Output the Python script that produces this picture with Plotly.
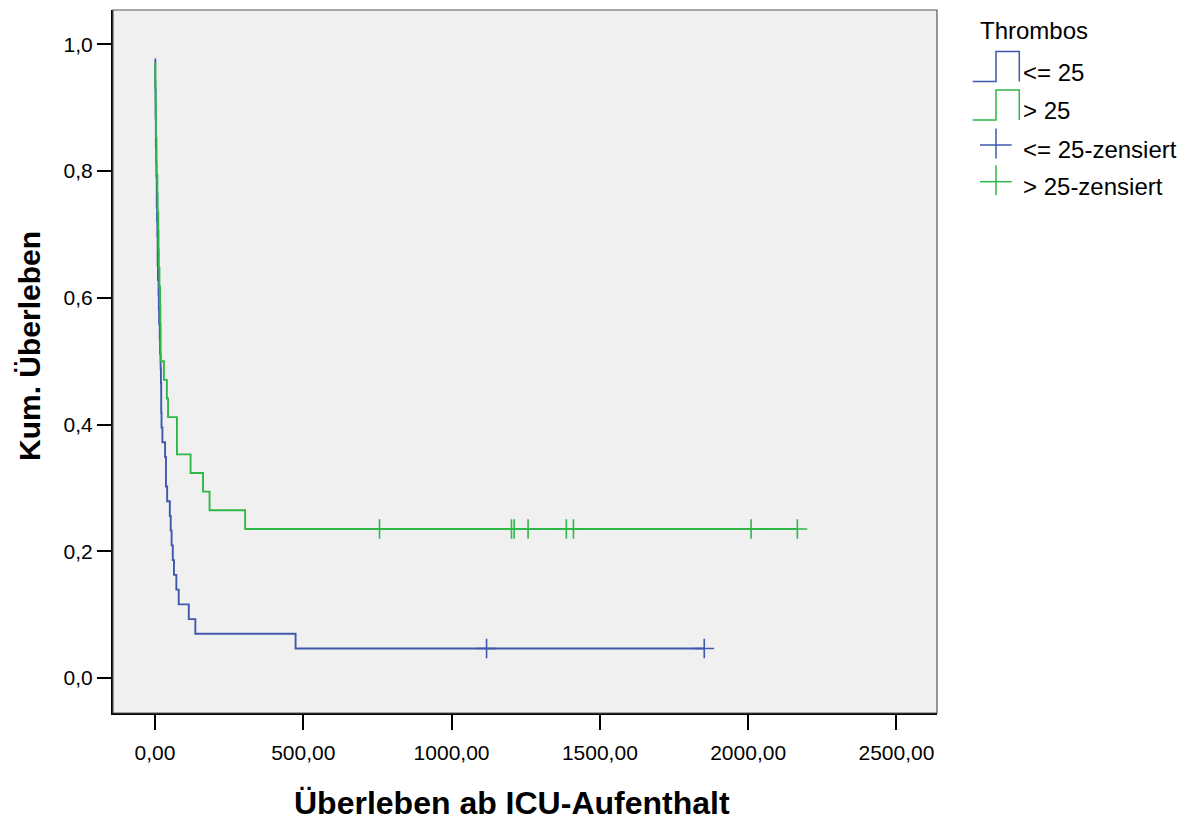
import numpy as np
import plotly.graph_objects as go

# Survival times (days after ICU stay), split by platelet group
group_labels = ["<= 25", "> 25"]
group_colors = ["#3E58AC", "#2EB848"]

# group "<= 25" (n = 43)
events_low = [0, 1, 1, 2, 2, 3, 3, 4, 5, 6, 6, 7, 8, 9, 9, 10, 12, 13, 14, 16,
              17, 19, 20, 21, 21, 22, 25, 34, 37, 37, 41, 50, 53, 56, 60, 64,
              72, 80, 114, 136, 474]
censored_low = [1118, 1852]

# group "> 25" (n = 34)
events_high = [0, 1, 2, 3, 3, 5, 5, 8, 9, 11, 12, 13, 15, 17, 18, 19, 19,
               30, 40, 44, 74, 74, 120, 162, 184, 304]
censored_high = [757, 1202, 1211, 1258, 1387, 1411, 2010, 2166]

x_tick_vals = [0, 500, 1000, 1500, 2000, 2500]
x_tick_text = ["0,00", "500,00", "1000,00", "1500,00", "2000,00", "2500,00"]
y_tick_vals = [0.0, 0.2, 0.4, 0.6, 0.8, 1.0]
y_tick_text = ["0,0", "0,2", "0,4", "0,6", "0,8", "1,0"]

FONT = "Liberation Sans, Arial, sans-serif"


def kaplan_meier(events, censored):
    """Return step coordinates and censor-mark coordinates of a KM curve."""
    events = np.asarray(events, dtype=float)
    censored = np.asarray(censored, dtype=float)
    n_at_risk = len(events) + len(censored)
    times = np.unique(events)
    surv = 1.0
    xs, ys = [], []
    for t in times:
        d = np.sum(events == t)
        at_risk = n_at_risk - np.sum(events < t) - np.sum(censored < t)
        surv *= 1.0 - d / at_risk
        xs.append(t)
        ys.append(surv)
    end = max(censored.max() if len(censored) else 0, times.max())
    xs.append(end)
    ys.append(surv)

    def s_at(t):
        v = 1.0
        for tt, ss in zip(xs[:-1], ys[:-1]):
            if tt <= t:
                v = ss
        return v

    cy = [s_at(t) for t in censored]
    return xs, ys, list(censored), cy


fig = go.Figure()

groups = [(events_low, censored_low), (events_high, censored_high)]
for (ev, ce), name, col in zip(groups, group_labels, group_colors):
    xs, ys, cx, cy = kaplan_meier(ev, ce)
    fig.add_trace(go.Scatter(
        x=xs, y=ys, mode="lines", line=dict(color=col, width=1.9, shape="hv"),
        name=name, showlegend=False, hoverinfo="skip"))
    fig.add_trace(go.Scatter(
        x=cx, y=cy, mode="markers", name=name + "-zensiert", showlegend=False,
        marker=dict(symbol="cross-thin", size=14, color=col,
                    line=dict(color=col, width=1.6)),
        hoverinfo="skip"))

W, H = 1204, 826
ML, MR, MT, MB = 113, 267, 10, 113
PW, PH = W - ML - MR, H - MT - MB


def px(x):
    # figure pixel -> paper (plot-area) fraction
    return (x - ML) / PW


def py(y):
    return (H - MB - y) / PH


shapes = []
annotations = []

# plot frame
shapes.append(dict(type="rect", xref="paper", yref="paper", x0=0, x1=1, y0=0, y1=1,
                   line=dict(color="#555555", width=1.2), layer="above"))

# Hand-built legend in the right margin (step icon for curves, cross for censoring)
annotations.append(dict(text="Thrombos", xref="paper", yref="paper",
                        x=px(978), y=py(31), xanchor="left", yanchor="middle",
                        showarrow=False, font=dict(family=FONT, size=24, color="#000")))

step_rows = [(81.5, 51.5, 72), (120, 90, 110)]
for (ylow, ytop, ytext), name, col in zip(step_rows, group_labels, group_colors):
    path = (f"M {px(972.7)} {py(ylow)} L {px(996)} {py(ylow)} L {px(996)} {py(ytop)} "
            f"L {px(1019.3)} {py(ytop)} L {px(1019.3)} {py(ylow)}")
    shapes.append(dict(type="path", xref="paper", yref="paper", path=path,
                       line=dict(color=col, width=1.5)))
    annotations.append(dict(text=name, xref="paper", yref="paper",
                            x=px(1021), y=py(ytext), xanchor="left", yanchor="middle",
                            showarrow=False, font=dict(family=FONT, size=24, color="#000")))

cross_rows = [(145, 149), (181.7, 186)]
for (yc, ytext), name, col in zip(cross_rows, group_labels, group_colors):
    shapes.append(dict(type="line", xref="paper", yref="paper",
                       x0=px(980), x1=px(1011.7), y0=py(yc), y1=py(yc),
                       line=dict(color=col, width=1.5)))
    shapes.append(dict(type="line", xref="paper", yref="paper",
                       x0=px(996), x1=px(996), y0=py(yc - 16.5), y1=py(yc + 13.5),
                       line=dict(color=col, width=1.5)))
    annotations.append(dict(text=name + "-zensiert", xref="paper", yref="paper",
                            x=px(1021), y=py(ytext), xanchor="left", yanchor="middle",
                            showarrow=False, font=dict(family=FONT, size=24, color="#000")))

# axis titles
annotations.append(dict(text="<b>Überleben ab ICU-Aufenthalt</b>", xref="paper", yref="paper",
                        x=px(511.5), y=py(803), xanchor="center", yanchor="middle",
                        showarrow=False, font=dict(family=FONT, size=32, color="#000")))
annotations.append(dict(text="<b>Kum. Überleben</b>", xref="paper", yref="paper",
                        x=px(29), y=py(346), xanchor="center", yanchor="middle",
                        textangle=-90, showarrow=False,
                        font=dict(family=FONT, size=30, color="#000")))

fig.update_layout(
    width=W, height=H,
    margin=dict(l=ML, r=MR, t=MT, b=MB),
    paper_bgcolor="white",
    plot_bgcolor="#F0F0F0",
    font=dict(family=FONT, size=21, color="#000"),
    shapes=shapes,
    annotations=annotations,
    showlegend=False,
)

fig.update_xaxes(
    range=[-141.6, 2636.8], tickmode="array", tickvals=x_tick_vals, ticktext=x_tick_text,
    ticks="outside", ticklen=15, tickwidth=1.5, tickcolor="#000",
    showline=True, linecolor="#000", linewidth=2, showgrid=False, zeroline=False,
    ticklabelstandoff=5, tickfont=dict(family=FONT, size=21, color="#000"),
)
fig.update_yaxes(
    range=[-0.0552, 1.0543], tickmode="array", tickvals=y_tick_vals, ticktext=y_tick_text,
    ticks="outside", ticklen=14, tickwidth=1.5, tickcolor="#000",
    showline=True, linecolor="#000", linewidth=2, showgrid=False, zeroline=False,
    tickfont=dict(family=FONT, size=21, color="#000"),
)

fig.write_html("out.html")
